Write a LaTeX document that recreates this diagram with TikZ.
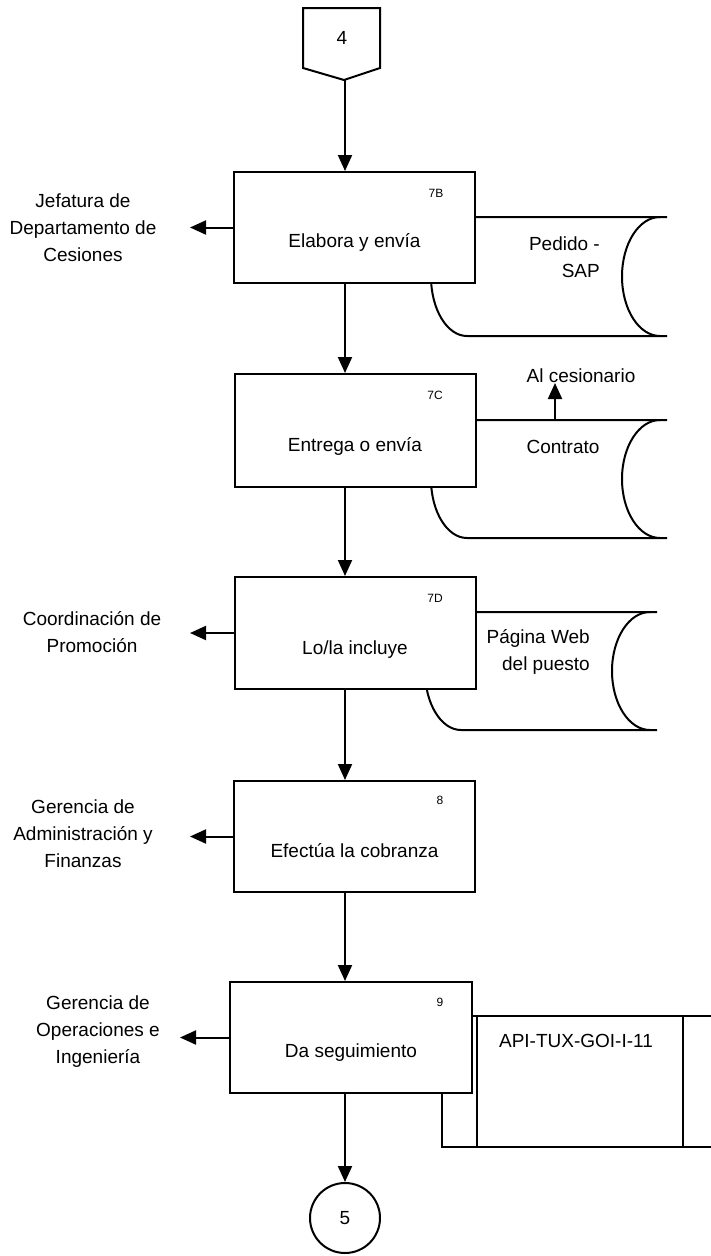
\documentclass[tikz,border=0pt]{standalone}
\usepackage{fontspec}
\setmainfont{Liberation Sans}
\usetikzlibrary{arrows.meta}
\begin{document}
\begin{tikzpicture}[x=1pt,y=-1pt,
  every node/.style={font=\fontsize{19}{27}\selectfont, inner sep=0pt},
  ln/.style={line width=2pt, line join=miter},
  arr/.style={ln, -{Triangle[length=16pt,width=14pt]}},
  procbox/.style={draw, ln, fill=white, rectangle, minimum width=241pt, minimum height=111pt},
  tag/.style={font=\fontsize{12}{14}\selectfont},
  side/.style={align=center}
]
\useasboundingbox (0,0) rectangle (711,1256);

% ---- stored data shapes (behind the boxes)
\draw[ln] (667,217) -- (467,217) .. controls (447.1,217) and (431,243.6) .. (431,276.5)
  .. controls (431,309.4) and (447.1,336) .. (467,336) -- (667,336);
\draw[ln] (660,217) .. controls (639,217) and (622,243.6) .. (622,276.5)
  .. controls (622,309.4) and (639,336) .. (660,336);

\draw[ln] (667,420) -- (467,420) .. controls (447.1,420) and (431,446.4) .. (431,479)
  .. controls (431,511.6) and (447.1,538) .. (467,538) -- (667,538);
\draw[ln] (660,420) .. controls (639,420) and (622,446.4) .. (622,479)
  .. controls (622,511.6) and (639,538) .. (660,538);

\draw[ln] (657,612) -- (461,612) .. controls (441.1,612) and (425,638.4) .. (425,671)
  .. controls (425,703.6) and (441.1,730) .. (461,730) -- (657,730);
\draw[ln] (650,612) .. controls (629,612) and (612,638.4) .. (612,671)
  .. controls (612,703.6) and (629,730) .. (650,730);

\draw[ln] (720,1016) -- (442,1016) -- (442,1147) -- (720,1147);
\draw[ln] (477,1016) -- (477,1147);
\draw[ln] (683,1016) -- (683,1147);

% ---- off-page connector 4
\draw[ln] (303,8) -- (380,8) -- (380,68) -- (344,80) -- (303,68) -- cycle;
\node (n4) at (342,38) {4};
\coordinate (c4tip) at (345,80);

% ---- process boxes
\node[procbox] (b7B) at (354.5,227.5) {};
\node[procbox, minimum height=113pt] (b7C) at (355,430.5) {};
\node[procbox, minimum height=112pt] (b7D) at (355,633) {};
\node[procbox] (b8) at (354.5,836.5) {};
\node[procbox, minimum width=242pt] (b9) at (351,1037.5) {};

\node (t7B) at ([yshift=-15pt]b7B.center) {Elabora y envía};
\node (t7C) at ([yshift=-16pt]b7C.center) {Entrega o envía};
\node (t7D) at ([yshift=-17pt]b7D.center) {Lo/la incluye};
\node (t8)  at ([yshift=-14pt]b8.center) {Efectúa la cobranza};
\node (t9)  at ([yshift=-15pt]b9.center) {Da seguimiento};

\node[tag] (g7B) at (436,193) {7B};
\node[tag] (g7C) at (435,395) {7C};
\node[tag] (g7D) at (435,598) {7D};
\node[tag] (g8)  at (440,800) {8};
\node[tag] (g9)  at (440,1002) {9};

% ---- document texts
\node[align=right, anchor=east] (dPed) at (600,257.5) {Pedido -\\SAP};
\node (dCon) at (563,447) {Contrato};
\node[align=right, anchor=east] (dPag) at (590,652) {Página Web\\del puesto};
\node (dApi) at (576,1041) {API-TUX-GOI-I-11};
\node (alc) at (581,376) {Al cesionario};
\coordinate (cs) at (555,420);
\coordinate (cstip) at (555,383);
\draw[arr] (cs) -- (cstip);

% ---- side labels
\node[side] (s7B) at (83,228) {Jefatura de\\Departamento de\\Cesiones};
\node[side] (s7D) at (92,632) {Coordinación de\\Promoción};
\node[side] (s8)  at (83,834) {Gerencia de\\Administración y\\Finanzas};
\node[side] (s9)  at (98,1032) {Gerencia de\\Operaciones e\\Ingeniería};

\coordinate (lx) at (190,0);
\coordinate (lx9) at (180,0);
\draw[arr] (b7B.west) -- (b7B.west -| lx);
\draw[arr] (b7D.west) -- (b7D.west -| lx);
\draw[arr] (b8.west) -- (b8.west -| lx);
\draw[arr] (b9.west) -- (b9.west -| lx9);

% ---- connector 5
\node[draw, ln, circle, minimum size=70pt] (c5) at (345,1218) {5};

% ---- flow
\draw[arr] (c4tip) -- (c4tip |- b7B.north);
\draw[arr] (b7B.south -| c4tip) -- (b7C.north -| c4tip);
\draw[arr] (b7C.south -| c4tip) -- (b7D.north -| c4tip);
\draw[arr] (b7D.south -| c4tip) -- (b8.north -| c4tip);
\draw[arr] (b8.south -| c4tip) -- (b9.north -| c4tip);
\draw[arr] (b9.south -| c4tip) -- (c5.north);
\end{tikzpicture}
\end{document}
